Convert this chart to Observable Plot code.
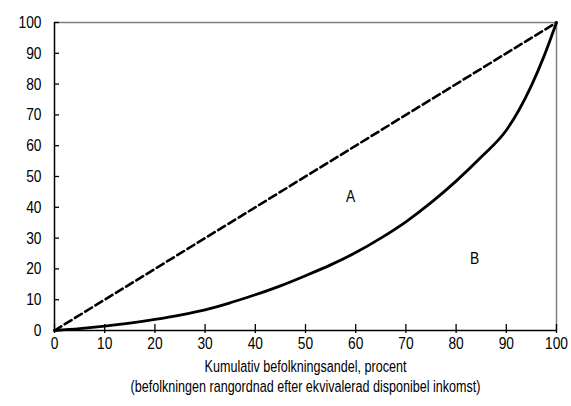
<!DOCTYPE html>
<html>
<head>
<meta charset="utf-8">
<script src="https://cdn.jsdelivr.net/npm/d3@7"></script>
<script src="https://cdn.jsdelivr.net/npm/@observablehq/plot@0.6"></script>
<style>
  body { margin: 0; background: #fff; }
  #chart svg { font-family: "Liberation Sans", Arial, sans-serif; }
</style>
</head>
<body>
<div id="chart"></div>
<script>
// Cumulative population share (%), ranked by equivalised disposable income
const popShare = [0, 5, 10, 15, 20, 25, 30, 35, 40, 45, 50, 55, 60, 65, 70, 75, 80, 85, 90, 92.5, 95, 97.5, 100];
// Cumulative income share (%) — Lorenz curve
const incomeShare = [0, 0.6, 1.4, 2.4, 3.6, 5.0, 6.7, 9.0, 11.6, 14.5, 17.8, 21.3, 25.3, 30.0, 35.3, 41.5, 48.5, 56.3, 65.0, 71.5, 79.5, 89.0, 100];
// Line of perfect equality
const equality = [0, 100];

const xTicks = [0, 10, 20, 30, 40, 50, 60, 70, 80, 90, 100];
const yTicks = [0, 10, 20, 30, 40, 50, 60, 70, 80, 90, 100];

const areaLabels = ["A", "B"];
const areaX = [59, 83.7];
const areaY = [43.5, 23.5];

const xTitle = "Kumulativ befolkningsandel, procent\n(befolkningen rangordnad efter ekvivalerad disponibel inkomst)";

const lorenz = popShare.map((x, i) => ({x, y: incomeShare[i]}));
const diag = equality.map(v => ({x: v, y: v}));
const labels = areaLabels.map((t, i) => ({t, x: areaX[i], y: areaY[i]}));

const chart = Plot.plot({
  width: 571,
  height: 406,
  marginLeft: 54,
  marginRight: 15,
  marginTop: 22,
  marginBottom: 76,
  style: {fontSize: "17px", color: "#000", background: "#fff"},
  x: {domain: [0, 100], label: null},
  y: {domain: [0, 100], label: null},
  marks: [
    // upper and right frame edges
    Plot.ruleY([100], {stroke: "#808080", strokeWidth: 1.5}),
    Plot.ruleX([100], {stroke: "#808080", strokeWidth: 1.5}),
    // ticks
    Plot.axisY(yTicks, {tickSize: -5, text: null, label: null, stroke: "#000", strokeWidth: 1.3}),
    Plot.axisY(yTicks, {tickSize: 0, tickPadding: 13, label: null, fill: "#000", fontSize: 17}),
    Plot.axisX(xTicks, {tickSize: 9, dy: -6, text: null, label: null, stroke: "#000", strokeWidth: 1.3}),
    Plot.axisX(xTicks, {tickSize: 0, tickPadding: 6, label: null, fill: "#000", fontSize: 17}),
    // axis lines
    Plot.ruleY([0], {stroke: "#000", strokeWidth: 1.5}),
    Plot.ruleX([0], {stroke: "#000", strokeWidth: 1.5}),
    // equality line and Lorenz curve
    Plot.line(diag, {x: "x", y: "y", stroke: "#000", strokeWidth: 2.6, strokeDasharray: "8,4"}),
    Plot.line(lorenz, {x: "x", y: "y", stroke: "#000", strokeWidth: 2.8, curve: "monotone-x"}),
    // area labels
    Plot.text(labels, {x: "x", y: "y", text: "t", fontSize: 17, fill: "#000"}),
    // x-axis title
    Plot.text([xTitle], {frameAnchor: "bottom", dy: 45, lineHeight: 1.18, fontSize: 17, fill: "#000", lineAnchor: "middle", className: "caption"})
  ]
});

// Narrow the lettering horizontally around each text's anchor point
chart.querySelectorAll("text").forEach(t => {
  const s = t.closest(".caption") ? 0.74 : 0.81;
  const x = +(t.getAttribute("x") || 0);
  const tr = t.getAttribute("transform") || "";
  t.setAttribute("transform", `${tr} translate(${x},0) scale(${s},1) translate(${-x},0)`);
});

document.getElementById("chart").append(chart);
</script>
</body>
</html>
